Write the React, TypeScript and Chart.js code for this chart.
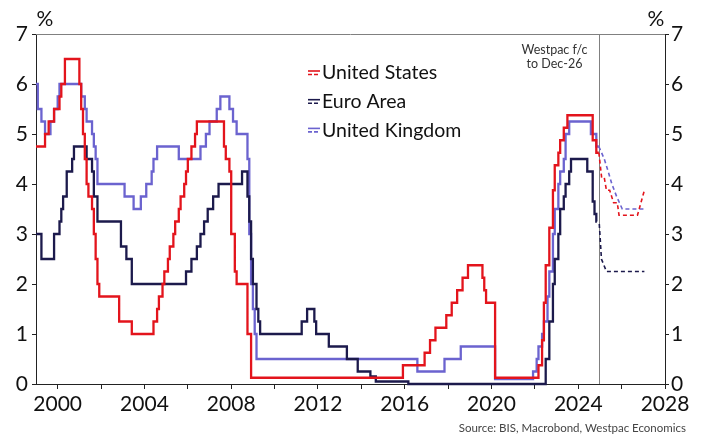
import { useEffect, useRef } from 'react';
import { Chart, registerables } from 'chart.js';

Chart.register(...registerables);

const FONT = 'Lato, "Open Sans", sans-serif';
const RED = '#e3141c';
const NAVY = '#1c1a4c';
const PURPLE = '#6b63cf';

// Policy rates (%): month in which each new level took effect, and the level
const usMonths = [
  '1999-01', '1999-06', '1999-08', '1999-11', '2000-02', '2000-03', '2000-05', '2001-01', '2001-02', '2001-03',
  '2001-04', '2001-05', '2001-06', '2001-08', '2001-09', '2001-10', '2001-11', '2001-12', '2002-11', '2003-06',
  '2004-06', '2004-08', '2004-09', '2004-11', '2004-12', '2005-02', '2005-03', '2005-05', '2005-06', '2005-08',
  '2005-09', '2005-11', '2005-12', '2006-01', '2006-03', '2006-05', '2006-06', '2007-09', '2007-10', '2007-12',
  '2008-01', '2008-03', '2008-04', '2008-10', '2008-12', '2015-12', '2016-12', '2017-03', '2017-06', '2017-12',
  '2018-03', '2018-06', '2018-09', '2018-12', '2019-08', '2019-09', '2019-10', '2020-03', '2022-03', '2022-05',
  '2022-06', '2022-07', '2022-09', '2022-11', '2022-12', '2023-02', '2023-03', '2023-05', '2023-07', '2024-09',
  '2024-11',
];
const usRates = [
  4.75, 5.0, 5.25, 5.5, 5.75, 6.0, 6.5, 6.0, 5.5, 5.0,
  4.5, 4.0, 3.75, 3.5, 3.0, 2.5, 2.0, 1.75, 1.25, 1.0,
  1.25, 1.5, 1.75, 2.0, 2.25, 2.5, 2.75, 3.0, 3.25, 3.5,
  3.75, 4.0, 4.25, 4.5, 4.75, 5.0, 5.25, 4.75, 4.5, 4.25,
  3.0, 2.25, 2.0, 1.0, 0.125, 0.375, 0.625, 0.875, 1.125, 1.375,
  1.625, 1.875, 2.125, 2.375, 2.125, 1.875, 1.625, 0.125, 0.375, 0.875,
  1.625, 2.375, 3.125, 3.875, 4.375, 4.625, 4.875, 5.125, 5.375, 4.875,
  4.625,
];
const usEnd = 2024.95;

const euMonths = [
  '1999-01', '1999-04', '1999-11', '2000-02', '2000-03', '2000-04', '2000-06', '2000-09', '2000-10', '2001-05',
  '2001-08', '2001-09', '2001-11', '2002-12', '2003-03', '2003-06', '2005-12', '2006-03', '2006-06', '2006-08',
  '2006-10', '2006-12', '2007-03', '2007-06', '2008-07', '2008-10', '2008-11', '2008-12', '2009-01', '2009-03',
  '2009-04', '2009-05', '2011-04', '2011-07', '2011-11', '2011-12', '2012-07', '2013-05', '2013-11', '2014-06',
  '2014-09', '2016-03', '2022-07', '2022-09', '2022-11', '2022-12', '2023-02', '2023-03', '2023-05', '2023-06',
  '2023-08', '2023-09', '2024-06', '2024-09', '2024-10', '2024-11',
];
const euRates = [
  3.0, 2.5, 3.0, 3.25, 3.5, 3.75, 4.25, 4.5, 4.75, 4.5,
  4.25, 3.75, 3.25, 2.75, 2.5, 2.0, 2.25, 2.5, 2.75, 3.0,
  3.25, 3.5, 3.75, 4.0, 4.25, 3.75, 3.25, 2.5, 2.0, 1.5,
  1.25, 1.0, 1.25, 1.5, 1.25, 1.0, 0.75, 0.5, 0.25, 0.15,
  0.05, 0.0, 0.5, 1.25, 2.0, 2.5, 3.0, 3.5, 3.75, 4.0,
  4.25, 4.5, 4.25, 3.65, 3.4, 3.25,
];
const euEnd = 2024.86;

const ukMonths = [
  '1999-01', '1999-02', '1999-04', '1999-06', '1999-09', '1999-11', '2000-01', '2000-02', '2001-02', '2001-04',
  '2001-05', '2001-08', '2001-09', '2001-10', '2001-11', '2003-02', '2003-07', '2003-11', '2004-02', '2004-05',
  '2004-06', '2004-08', '2005-08', '2006-08', '2006-11', '2007-01', '2007-05', '2007-07', '2007-12', '2008-02',
  '2008-04', '2008-10', '2008-11', '2008-12', '2009-01', '2009-02', '2009-03', '2016-08', '2017-11', '2018-08',
  '2020-03', '2021-12', '2022-02', '2022-03', '2022-05', '2022-06', '2022-08', '2022-09', '2022-11', '2022-12',
  '2023-02', '2023-03', '2023-05', '2023-06', '2023-08', '2024-08', '2024-11',
];
const ukRates = [
  6.0, 5.5, 5.25, 5.0, 5.25, 5.5, 5.75, 6.0, 5.75, 5.5,
  5.25, 5.0, 4.75, 4.5, 4.0, 3.75, 3.5, 3.75, 4.0, 4.25,
  4.5, 4.75, 4.5, 4.75, 5.0, 5.25, 5.5, 5.75, 5.5, 5.25,
  5.0, 4.5, 3.0, 2.0, 1.5, 1.0, 0.5, 0.25, 0.5, 0.75,
  0.1, 0.25, 0.5, 0.75, 1.0, 1.25, 1.75, 2.25, 3.0, 3.5,
  4.0, 4.25, 4.5, 5.0, 5.25, 5.0, 4.75,
];
const ukEnd = 2024.95;

// Westpac forecast paths (decimal years), to Dec-26
const usFcDates = [2024.95, 2025.08, 2025.2, 2025.3, 2025.45, 2025.63, 2025.8, 2025.88, 2026.73, 2027.05];
const usFcRates = [4.625, 4.125, 4.125, 3.875, 3.875, 3.625, 3.625, 3.375, 3.375, 3.875];
const euFcDates = [2024.97, 2025.07, 2025.3, 2027.05];
const euFcRates = [3.2, 2.5, 2.25, 2.25];
const ukFcDates = [2024.95, 2025.2, 2025.38, 2025.55, 2025.77, 2026.03, 2027.05];
const ukFcRates = [4.75, 4.5, 4.25, 4.0, 3.75, 3.5, 3.5];

const forecastStart = 2024.95;
const xTickYears = [2000, 2002, 2004, 2006, 2008, 2010, 2012, 2014, 2016, 2018, 2020, 2022, 2024, 2026, 2028];
const xLabelYears = [2000, 2004, 2008, 2012, 2016, 2020, 2024, 2028];
const seriesNames = ['United States', 'Euro Area', 'United Kingdom'];
const seriesColors = [RED, NAVY, PURPLE];
const noteLines = ['Westpac f/c', 'to Dec-26'];
const sourceText = 'Source: BIS, Macrobond, Westpac Economics';

const monthToYear = (m: string) => {
  const [y, mo] = m.split('-').map(Number);
  return y + (mo - 1) / 12;
};

const history = (months: string[], rates: number[], end: number) => {
  const pts = months.map((m, i) => ({ x: monthToYear(m), y: rates[i] }));
  pts.push({ x: end, y: rates[rates.length - 1] });
  return pts;
};

const path = (dates: number[], rates: number[]) => dates.map((d, i) => ({ x: d, y: rates[i] }));

const decor = {
  id: 'decor',
  beforeDatasetsDraw(chart: any) {
    const { ctx, chartArea: a, scales } = chart;
    ctx.save();
    ctx.strokeStyle = '#808080';
    ctx.lineWidth = 1;
    ctx.beginPath();
    ctx.moveTo(a.left, a.top + 0.5);
    ctx.lineTo(a.right, a.top + 0.5);
    ctx.stroke();
    const fx = Math.round(scales.x.getPixelForValue(forecastStart)) + 0.5;
    ctx.beginPath();
    ctx.moveTo(fx, a.top);
    ctx.lineTo(fx, a.bottom);
    ctx.stroke();
    ctx.fillStyle = '#333';
    ctx.font = `12.5px ${FONT}`;
    ctx.textAlign = 'center';
    ctx.textBaseline = 'middle';
    noteLines.forEach((t, i) => ctx.fillText(t, fx - 45, 50 + i * 13.5));
    ctx.restore();
  },
  afterDraw(chart: any) {
    const { ctx, chartArea: a } = chart;
    ctx.save();
    // legend: solid (history) over dashed (forecast) swatch
    seriesNames.forEach((name, i) => {
      const y = 73 + i * 28.7;
      ctx.strokeStyle = seriesColors[i];
      ctx.lineWidth = 1.6;
      ctx.setLineDash([]);
      ctx.beginPath();
      ctx.moveTo(308, y - 2);
      ctx.lineTo(320, y - 2);
      ctx.stroke();
      ctx.setLineDash([4, 2]);
      ctx.beginPath();
      ctx.moveTo(308, y + 1.5);
      ctx.lineTo(320, y + 1.5);
      ctx.stroke();
      ctx.setLineDash([]);
      ctx.fillStyle = '#111';
      ctx.font = `19.5px ${FONT}`;
      ctx.textAlign = 'left';
      ctx.textBaseline = 'middle';
      ctx.fillText(name, 322, y);
    });
    ctx.fillStyle = '#111';
    ctx.font = `21px ${FONT}`;
    ctx.textAlign = 'center';
    ctx.textBaseline = 'middle';
    ctx.fillText('%', a.left + 9, 19);
    ctx.fillText('%', a.right - 9, 19);
    ctx.fillStyle = '#444';
    ctx.font = `11.5px ${FONT}`;
    ctx.textAlign = 'right';
    ctx.fillText(sourceText, 686, 428);
    ctx.restore();
  },
};

export default function App() {
  const ref = useRef<HTMLCanvasElement>(null);

  useEffect(() => {
    const solid = (label: string, data: any[], color: string) => ({
      label,
      data,
      borderColor: color,
      backgroundColor: color,
      borderWidth: 2.3,
      pointRadius: 0,
      stepped: true,
      fill: false,
      clip: false as const,
    });
    const dashed = (label: string, data: any[], color: string) => ({
      label,
      data,
      borderColor: color,
      backgroundColor: color,
      borderWidth: 1.6,
      borderDash: [4, 3],
      pointRadius: 0,
      tension: 0,
      fill: false,
      clip: false as const,
    });

    const yScale = (position: 'left' | 'right', width: number) => ({
      type: 'linear' as const,
      position,
      min: 0,
      max: 7,
      ticks: {
        stepSize: 1,
        color: '#111',
        font: { family: FONT, size: 21 },
        padding: position === 'left' ? 4 : 2,
      },
      grid: { drawOnChartArea: false, drawTicks: true, tickLength: 4, color: '#222' },
      border: { display: true, color: '#222', width: 1 },
      afterFit: (s: any) => {
        s.width = width;
      },
    });

    const chart = new Chart(ref.current!, {
      type: 'line',
      data: {
        datasets: [
          solid(seriesNames[0], history(usMonths, usRates, usEnd), RED),
          solid(seriesNames[1], history(euMonths, euRates, euEnd), NAVY),
          solid(seriesNames[2], history(ukMonths, ukRates, ukEnd), PURPLE),
          dashed(seriesNames[0] + ' f/c', path(usFcDates, usFcRates), RED),
          dashed(seriesNames[1] + ' f/c', path(euFcDates, euFcRates), NAVY),
          dashed(seriesNames[2] + ' f/c', path(ukFcDates, ukFcRates), PURPLE),
        ],
      },
      options: {
        responsive: false,
        animation: false,
        devicePixelRatio: 1,
        layout: { padding: { top: 34, left: 0, right: 0, bottom: 0 } },
        plugins: { legend: { display: false }, tooltip: { enabled: false } },
        scales: {
          x: {
            type: 'linear',
            position: 'bottom',
            min: 1999,
            max: 2028,
            afterBuildTicks: (s: any) => {
              s.ticks = xTickYears.map((v) => ({ value: v }));
            },
            ticks: {
              autoSkip: false,
              maxRotation: 0,
              color: '#111',
              font: { family: FONT, size: 21 },
              padding: 3,
              callback: (v: any) => (xLabelYears.includes(Number(v)) ? String(v) : ''),
            },
            grid: { drawOnChartArea: false, drawTicks: true, tickLength: 5, color: '#222' },
            border: { display: true, color: '#222', width: 1 },
            afterFit: (s: any) => {
              s.height = 50;
            },
          },
          y: yScale('left', 36),
          y2: yScale('right', 37),
        },
      },
      plugins: [decor],
    });
    return () => chart.destroy();
  }, []);

  return (
    <canvas
      ref={ref}
      width={702}
      height={434}
      style={{ position: 'absolute', left: 0, top: 0, width: 702, height: 434 }}
    />
  );
}
